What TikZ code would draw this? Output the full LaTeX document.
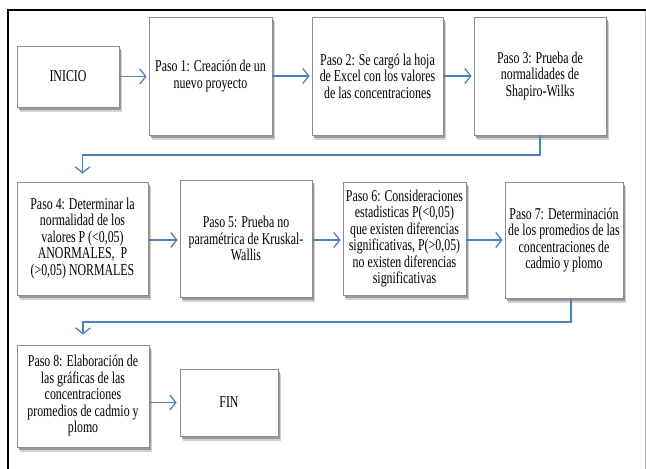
\documentclass[tikz,border=0pt]{standalone}
\usepackage{fontspec}
\setmainfont{Liberation Serif}
\newfontfamily\boxfont[FakeStretch=0.72]{Liberation Serif}
\usetikzlibrary{arrows.meta,shadows,calc}
\definecolor{arrblue}{HTML}{4F81BD}
\definecolor{boxline}{HTML}{8C8C8C}
\tikzset{
  stepbox/.style={draw=boxline, line width=0.8pt, fill=white, align=center,
    inner sep=0pt, font=\boxfont\fontsize{16.5}{16.5}\selectfont,
    general shadow={shadow xshift=3pt, shadow yshift=-4.5pt, fill=black!18},
    general shadow={shadow xshift=1.5pt, shadow yshift=-3pt, fill=black!40}},
  arr/.style={draw=arrblue, line width=1.5pt,
    -{Straight Barb[length=6pt,width=15pt,line width=1.3pt]}},
}
\begin{document}
\begin{tikzpicture}[x=1pt,y=-1pt]
\useasboundingbox (0,0) rectangle (646,469);
\fill[white] (0,0) rectangle (646,469);
% frame
\draw[black, line width=2.5pt] (8,10) -- (646,10);
\draw[black, line width=2.5pt] (8,9) -- (8,470);
\draw[black!25, line width=0.8pt] (645,11) -- (645,470);
% nodes
\node[stepbox, minimum width=102pt, minimum height=61pt] (inicio) at (68,76.5) {INICIO};
\node[stepbox, minimum width=123pt, minimum height=118pt] (p1) at (210.5,76) {Paso 1: Creación de un\\nuevo proyecto};
\node[stepbox, minimum width=131pt, minimum height=118pt] (p2) at (377.5,76) {Paso 2: Se cargó la hoja\\de Excel con los valores\\de las concentraciones};
\node[stepbox, minimum width=132pt, minimum height=118pt] (p3) at (540,76) {Paso 3: Prueba de\\normalidades de\\Shapiro-Wilks};
\node[stepbox, minimum width=131pt, minimum height=113pt] (p4) at (82.5,238.5) {Paso 4: Determinar la\\normalidad de los\\valores P (<0,05)\\ANORMALES, \ P\\(>0,05) NORMALES};
\node[stepbox, minimum width=132pt, minimum height=117pt] (p5) at (246,238.5) {Paso 5: Prueba no\\paramétrica de Kruskal-\\Wallis};
\node[stepbox, minimum width=123pt, minimum height=113pt] (p6) at (404.5,238.5) {Paso 6: Consideraciones\\estadisticas P(<0,05)\\que existen diferencias\\significativas, P(>0,05)\\no existen diferencias\\significativas};
\node[stepbox, minimum width=118pt, minimum height=116pt] (p7) at (564,240) {Paso 7: Determinación\\de los promedios de las\\concentraciones de\\cadmio y plomo};
\node[stepbox, minimum width=132pt, minimum height=102pt] (p8) at (83,396) {Paso 8: Elaboración de\\las gráficas de las\\concentraciones\\promedios de cadmio y\\plomo};
\node[stepbox, minimum width=98pt, minimum height=67pt] (fin) at (229,402.5) {FIN};
% connectors
\draw[arr, shorten >=2pt] (inicio.east) -- (inicio.east -| p1.west);
\draw[arr, shorten >=2pt] (p1.east) -- (p1.east -| p2.west);
\draw[arr, shorten >=2pt] (p2.east) -- (p2.east -| p3.west);
\coordinate (c1) at (540,155);
\coordinate (c2) at (82.5,155);
\draw[arr, shorten >=8pt] (p3.south) -- (c1) -- (c2) -- (p4.north);
\draw[arr, shorten >=2pt] ($(p4.east)+(0,1.5)$) -- ($(p4.east -| p5.west)+(0,1.5)$);
\draw[arr, shorten >=2pt] ($(p5.east)+(0,1.5)$) -- ($(p5.east -| p6.west)+(0,1.5)$);
\draw[arr, shorten >=2pt] ($(p6.east)+(0,1.5)$) -- ($(p6.east -| p7.west)+(0,1.5)$);
\coordinate (c3) at (571,322);
\coordinate (c4) at (83,322);
\draw[arr, shorten >=10pt] (p7.south -| c3) -- (c3) -- (c4) -- (p8.north);
\draw[arr, shorten >=3pt] (p8.east |- fin.west) -- (fin.west);
\end{tikzpicture}
\end{document}
